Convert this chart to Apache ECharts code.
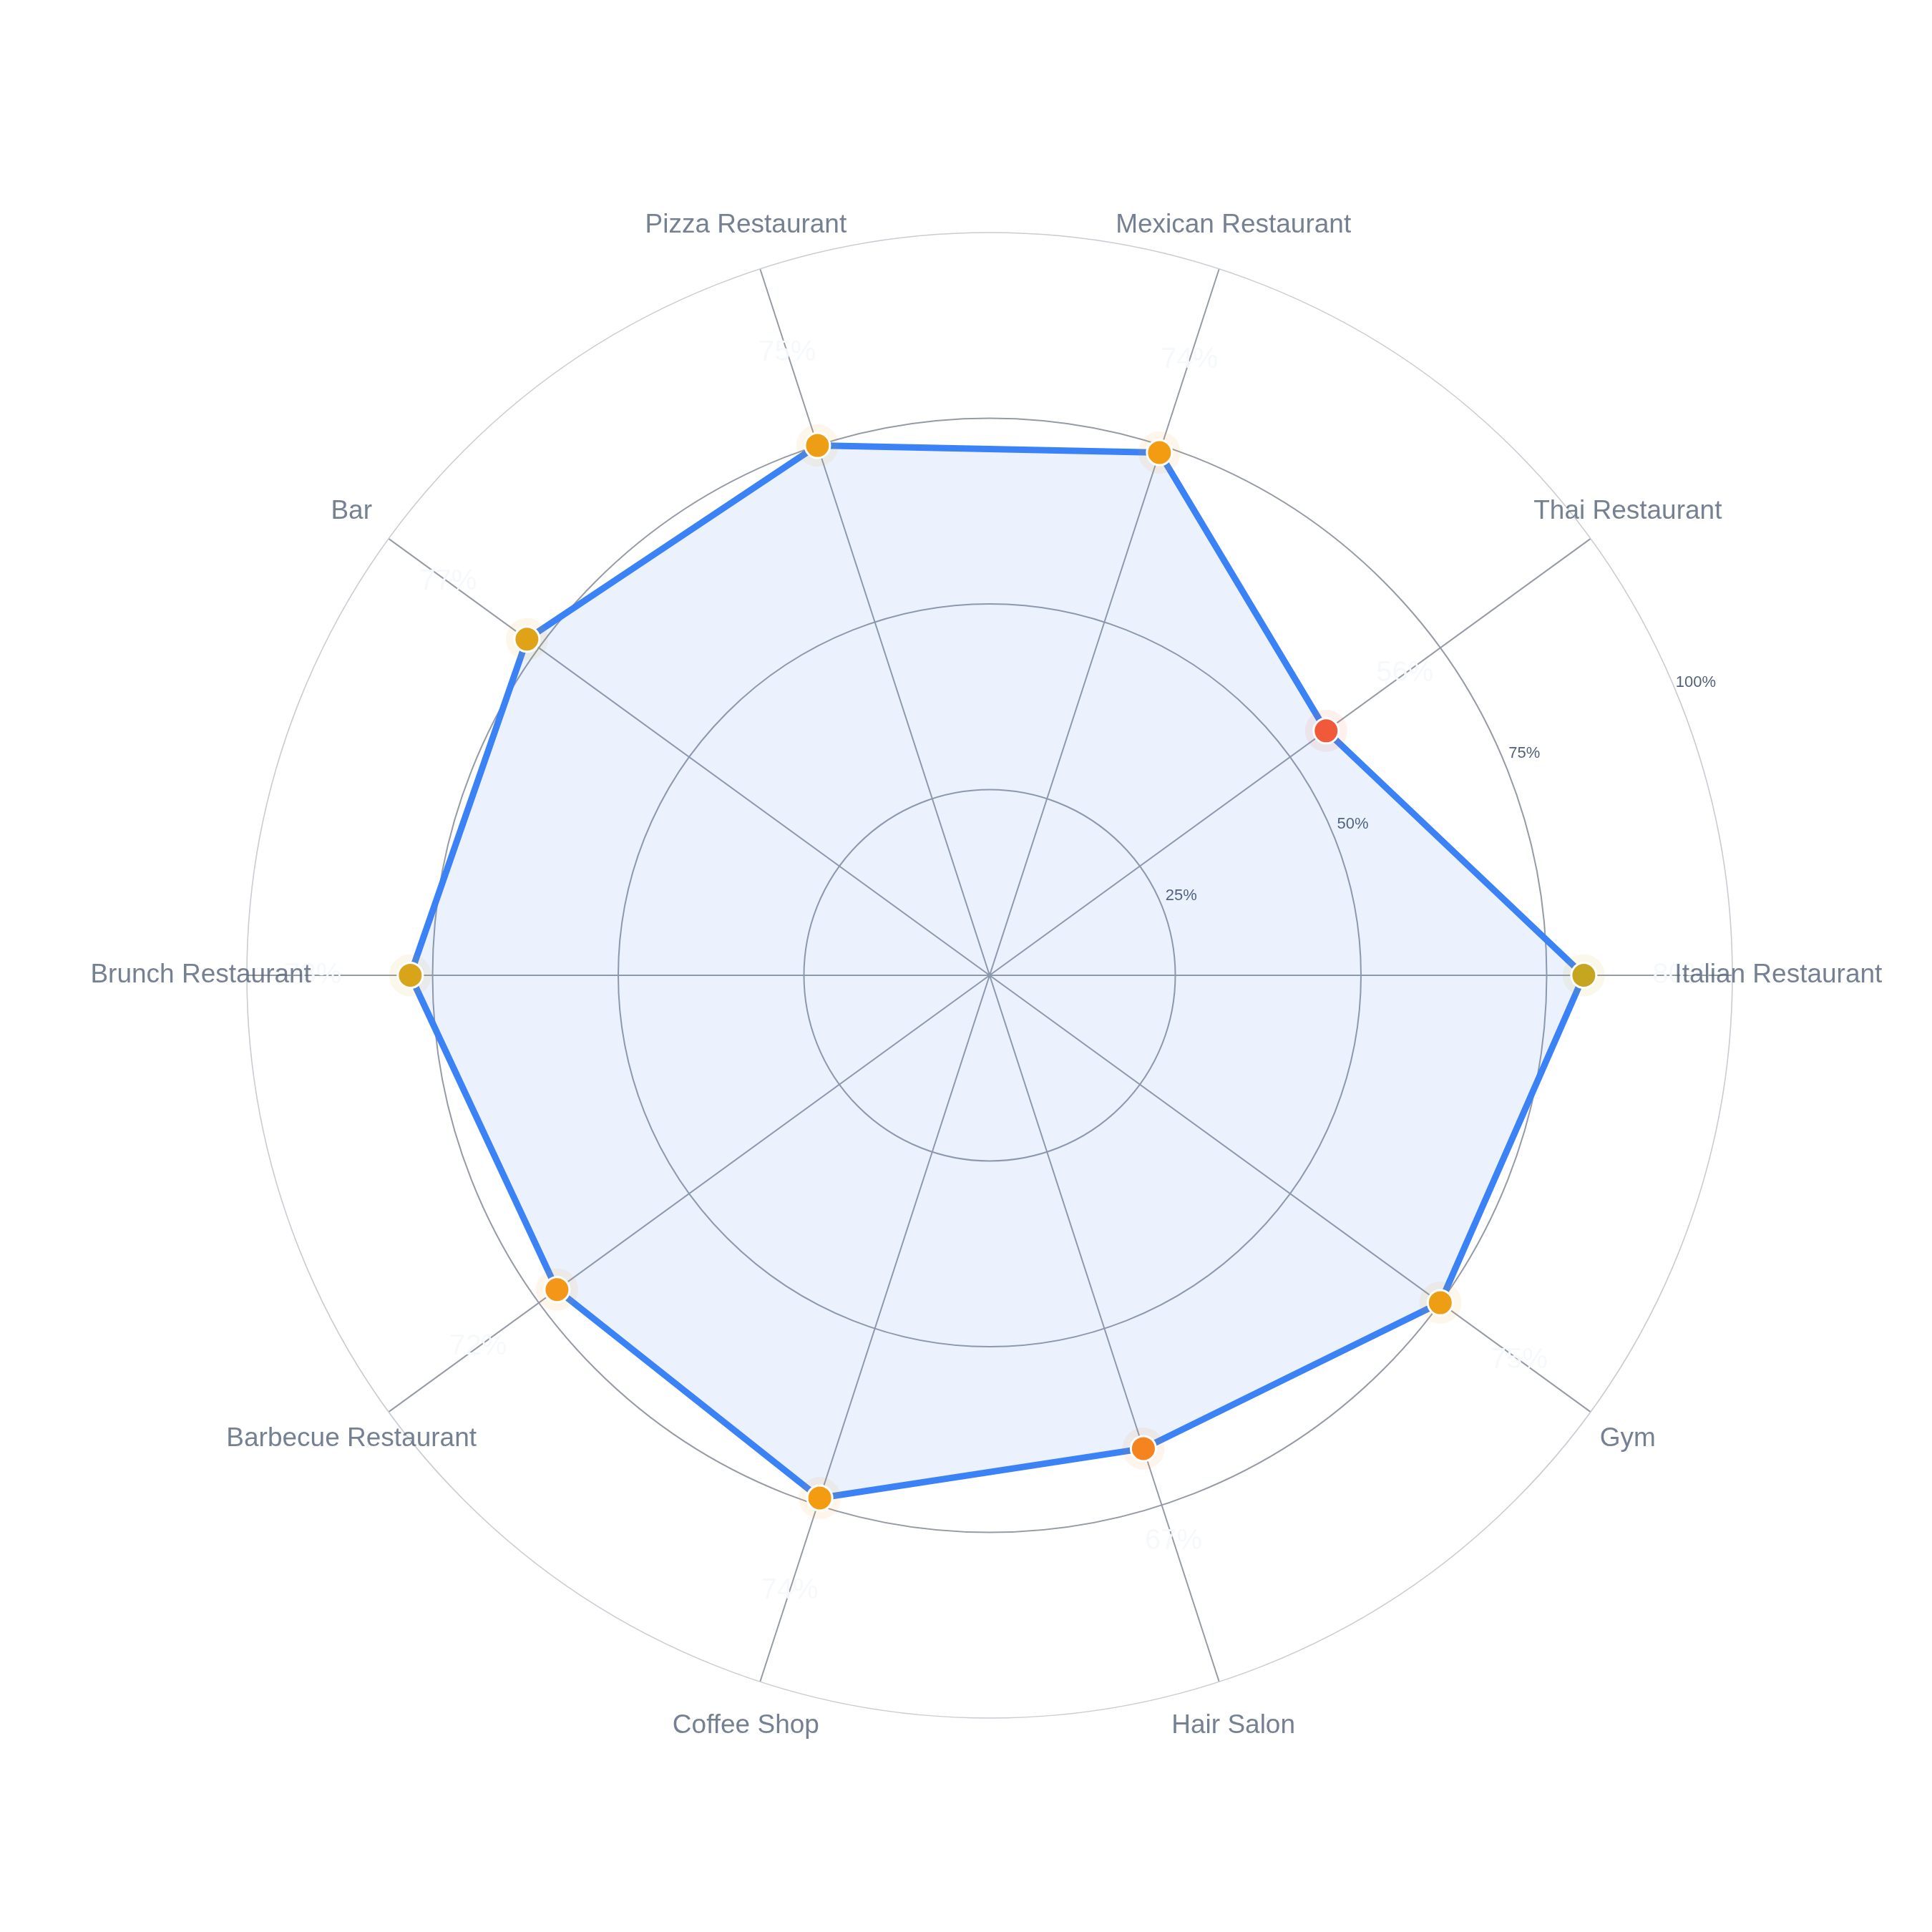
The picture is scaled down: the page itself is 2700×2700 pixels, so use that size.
<!DOCTYPE html>
<html>
<head>
<meta charset="utf-8">
<script src="https://cdn.jsdelivr.net/npm/echarts@6/dist/echarts.min.js"></script>
<style>html,body{margin:0;padding:0;background:#ffffff}#chart{width:2700px;height:2700px}</style>
</head>
<body>
<div id="chart"></div>
<script>
// ---- data ----
const categories = ['Italian Restaurant', 'Thai Restaurant', 'Mexican Restaurant', 'Pizza Restaurant', 'Bar',
  'Brunch Restaurant', 'Barbecue Restaurant', 'Coffee Shop', 'Hair Salon', 'Gym'];
const values = [80, 56, 74, 75, 77, 78, 72, 74, 67, 75];
const radiusTickMax = 100;
const radiusTickStep = 25;

// ---- layout / style ----
const CX = 1383, CY = 1363;
const CENTER = [CX, CY];
const TICK_LABEL_CENTER = [CX + 28, CY - 12];
const RADIUS = 1038;
const BAND = 360 / categories.length;
const LABEL_R = 106.2;          // category label ring, in axis units
const VALUE_LABEL_OFFSET = 136; // px, radial offset of value labels
const FONT = 'Liberation Sans, Arial, Helvetica, sans-serif';
const TEXT = '#526178';
const GRID = '#959ba5';
const OUTER = '#c9ccd2';

const chart = echarts.init(document.getElementById('chart'));

const lineData = values.map((v, i) => [v, categories[i]]);
lineData.push([values[0], categories[0]]);
const pointData = values.map((v, i) => [v, categories[i]]);
const labelData = categories.map(c => ({ value: [LABEL_R, c], name: c }));

const option = {
  backgroundColor: '#ffffff',
  animation: false,
  textStyle: { fontFamily: FONT },
  polar: [
    { center: CENTER, radius: RADIUS },
    { center: CENTER, radius: RADIUS },
    { center: TICK_LABEL_CENTER, radius: RADIUS }
  ],
  angleAxis: [
    {
      polarIndex: 0,
      type: 'category',
      data: categories,
      boundaryGap: true,
      startAngle: -BAND / 2,
      clockwise: false,
      axisLine: { show: true, lineStyle: { color: OUTER, width: 1.6 } },
      axisTick: { show: false },
      axisLabel: { show: false },
      splitLine: { show: false }
    },
    {
      polarIndex: 1,
      type: 'value',
      min: 0, max: 360, interval: BAND,
      startAngle: 0,
      clockwise: false,
      axisLine: { show: false },
      axisTick: { show: false },
      axisLabel: { show: false },
      splitLine: { show: true, lineStyle: { color: GRID, width: 2 } }
    },
    {
      polarIndex: 2,
      type: 'value',
      min: 0, max: 360,
      startAngle: 22.5,
      clockwise: false,
      axisLine: { show: false },
      axisTick: { show: false },
      axisLabel: { show: false },
      splitLine: { show: false }
    }
  ],
  radiusAxis: [
    {
      polarIndex: 0,
      type: 'value',
      min: 0, max: radiusTickMax, interval: radiusTickStep,
      axisLine: { show: false },
      axisTick: { show: false },
      axisLabel: { show: false },
      splitLine: { show: true, lineStyle: { color: [GRID, GRID, GRID, GRID, 'rgba(0,0,0,0)'], width: 2 } }
    },
    {
      polarIndex: 1,
      type: 'value',
      min: 0, max: radiusTickMax, interval: radiusTickStep,
      axisLine: { show: false },
      axisTick: { show: false },
      axisLabel: { show: false },
      splitLine: { show: false }
    },
    {
      polarIndex: 2,
      type: 'value',
      min: 0, max: radiusTickMax, interval: radiusTickStep,
      axisLine: { show: false },
      axisTick: { show: false },
      splitLine: { show: false },
      axisLabel: {
        show: true,
        showMinLabel: false,
        margin: 0,
        rotate: 0,
        align: 'center',
        verticalAlign: 'middle',
        color: TEXT,
        fontSize: 22,
        fontFamily: FONT,
        formatter: v => v + '%'
      }
    }
  ],
  visualMap: {
    show: false,
    type: 'continuous',
    seriesIndex: [1, 2],
    dimension: 0,
    min: 56, max: 80,
    inRange: {
      color: ['#f05a3a', '#f16331', '#f26e2a', '#f47c23', '#f5871e', '#f4931a', '#f39c12', '#e0a317', '#c6a521']
    }
  },
  series: [
    {
      type: 'line',
      coordinateSystem: 'polar',
      polarIndex: 0,
      data: lineData,
      symbol: 'none',
      smooth: false,
      clip: false,
      z: 2,
      lineStyle: { color: '#3b82f6', width: 9, join: 'round' },
      areaStyle: { color: 'rgba(59,130,246,0.145)' },
      silent: true
    },
    {
      type: 'scatter',
      coordinateSystem: 'polar',
      polarIndex: 0,
      data: pointData,
      symbol: 'circle',
      symbolSize: 59,
      itemStyle: { opacity: 0.09 },
      z: 3,
      silent: true,
      clip: false
    },
    {
      type: 'scatter',
      coordinateSystem: 'polar',
      polarIndex: 0,
      data: pointData,
      symbol: 'circle',
      symbolSize: 35,
      itemStyle: { borderColor: '#ffffff', borderWidth: 3, opacity: 1 },
      z: 4,
      clip: false,
      label: {
        show: true,
        color: 'rgba(246,249,252,0.95)',
        fontSize: 40,
        fontFamily: FONT,
        formatter: p => p.value[0] + '%'
      },
      labelLayout: function (params) {
        const a = params.dataIndex * 2 * Math.PI / categories.length;
        const cx = params.rect.x + params.rect.width / 2;
        const cy = params.rect.y + params.rect.height / 2;
        return {
          x: cx + VALUE_LABEL_OFFSET * Math.cos(a),
          y: cy - VALUE_LABEL_OFFSET * Math.sin(a),
          align: 'center',
          verticalAlign: 'middle'
        };
      }
    },
    {
      type: 'scatter',
      coordinateSystem: 'polar',
      polarIndex: 0,
      data: labelData,
      symbolSize: 1,
      itemStyle: { color: 'rgba(0,0,0,0)' },
      z: 5,
      silent: true,
      clip: false,
      label: {
        show: true,
        position: 'inside',
        color: TEXT,
        fontSize: 37,
        fontFamily: FONT,
        formatter: p => p.name
      }
    }
  ]
};
chart.setOption(option);
</script>
</body>
</html>
